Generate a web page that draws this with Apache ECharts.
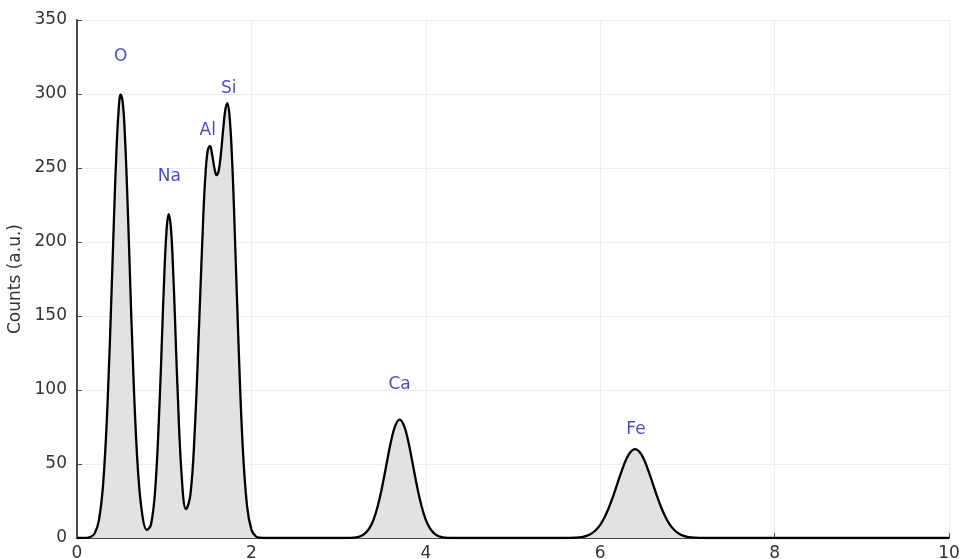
<!DOCTYPE html>
<html lang="en">
<head>
    <meta charset="UTF-8">
    <title>EDS spectrum</title>
    <script src="https://cdn.jsdelivr.net/npm/echarts@6/dist/echarts.min.js"></script>
    <style>
        * {
            margin: 0;
            padding: 0
        }

        html, body {
            width: 100%;
            height: 100%;
            background: #fff;
        }

        #spectrum {
            width: 961px;
            height: 559px;
        }
    </style>
</head>
<body>
<div id="spectrum"></div>
<script>
    // energy (keV) / counts
    var energy = [
        0, 0.1, 0.15, 0.2, 0.25, 0.3, 0.35, 0.4, 0.425, 0.45, 0.475, 0.5, 0.525, 0.55, 0.575, 0.6,
        0.65, 0.7, 0.75, 0.8, 0.85, 0.9, 0.95, 0.975, 1.0, 1.025, 1.05, 1.075, 1.1, 1.125, 1.15,
        1.2, 1.25, 1.3, 1.35, 1.4, 1.45, 1.475, 1.5, 1.525, 1.55, 1.575, 1.6, 1.625, 1.65, 1.675,
        1.7, 1.725, 1.75, 1.775, 1.8, 1.85, 1.9, 1.95, 2.0, 2.05, 2.1, 2.15,
        3.1, 3.15, 3.2, 3.25, 3.3, 3.35, 3.4, 3.45, 3.5, 3.55, 3.6, 3.65, 3.7, 3.75, 3.8, 3.85,
        3.9, 3.95, 4.0, 4.05, 4.1, 4.15, 4.2, 4.25, 4.3,
        5.6, 5.65, 5.7, 5.75, 5.8, 5.85, 5.9, 5.95, 6.0, 6.05, 6.1, 6.15, 6.2, 6.25, 6.3, 6.35,
        6.4, 6.45, 6.5, 6.55, 6.6, 6.65, 6.7, 6.75, 6.8, 6.85, 6.9, 6.95, 7.0, 7.05, 7.1, 7.15,
        7.2, 10
    ];
    var counts = [
        0, 0.1, 0.6, 2.9, 11.6, 36.7, 90.3, 172.9, 217.8, 257.9, 286.8, 299.6, 294.1, 271.2, 234.8, 191.1,
        104.9, 44.8, 15.1, 5.4, 9.5, 35.3, 95.6, 136.2, 175.8, 206.0, 218.8, 210.9, 184.3, 146.1, 105.3,
        42.2, 19.5, 29.0, 71.9, 143.7, 219.9, 247.1, 262.1, 264.9, 258.9, 250.2, 245.2, 248.2, 259.4, 275.2,
        289.0, 293.9, 284.6, 260.3, 223.5, 135.0, 62.0, 21.6, 5.7, 1.2, 0.2, 0,
        0, 0.15, 0.4, 1.2, 2.9, 6.3, 12.3, 21.8, 34.8, 50.1, 65.0, 75.9, 80.0, 75.9, 65.0, 50.1,
        34.8, 21.8, 12.3, 6.3, 2.9, 1.2, 0.4, 0.15, 0,
        0, 0.1, 0.2, 0.4, 0.8, 1.6, 3.1, 5.4, 8.9, 14.0, 20.6, 28.5, 37.3, 45.9, 53.3, 58.2,
        60.0, 58.2, 53.3, 45.9, 37.3, 28.5, 20.6, 14.0, 8.9, 5.4, 3.1, 1.6, 0.8, 0.4, 0.2, 0.1,
        0, 0
    ];

    // element labels above the peaks
    var labelNames = ['O', 'Na', 'Al', 'Si', 'Ca', 'Fe'];
    var labelX = [0.50, 1.06, 1.50, 1.74, 3.70, 6.41];
    var labelY = [325, 244, 275, 304, 104, 73];

    var spectrum = energy.map(function (e, i) {
        return [e, counts[i]];
    });
    var labels = labelNames.map(function (n, i) {
        return [labelX[i], labelY[i], n];
    });

    var axisColor = '#4a4a4a';
    var textColor = '#333';

    var myChart = echarts.init(document.getElementById('spectrum'));

    var option = {
        animation: false,
        backgroundColor: '#fff',
        textStyle: {
            fontFamily: 'DejaVu Sans'
        },
        grid: {
            left: 77,
            right: 12,
            top: 20,
            bottom: 21,
            containLabel: false,
            outerBoundsMode: 'none'
        },
        xAxis: {
            type: 'value',
            min: 0,
            max: 10,
            interval: 2,
            axisLine: {lineStyle: {color: axisColor, width: 2}},
            axisTick: {inside: true, length: 5, lineStyle: {color: axisColor}},
            axisLabel: {fontSize: 17, color: textColor, margin: 7},
            splitLine: {lineStyle: {color: '#eeeeee'}}
        },
        yAxis: {
            type: 'value',
            min: 0,
            max: 350,
            interval: 50,
            name: 'Counts (a.u.)',
            nameLocation: 'middle',
            nameGap: 52,
            nameTextStyle: {fontSize: 17, color: textColor},
            axisLine: {show: true, lineStyle: {color: axisColor, width: 2}},
            axisTick: {show: true, inside: true, length: 5, lineStyle: {color: axisColor}},
            axisLabel: {fontSize: 17, color: textColor, margin: 10},
            splitLine: {lineStyle: {color: '#eeeeee'}}
        },
        series: [
            {
                type: 'line',
                data: spectrum,
                smooth: 0.4,
                showSymbol: false,
                lineStyle: {color: '#000', width: 2.3},
                areaStyle: {color: '#e2e2e2', opacity: 1, origin: 'start'},
                silent: true
            },
            {
                type: 'scatter',
                data: labels,
                symbolSize: 1,
                itemStyle: {color: 'transparent'},
                silent: true,
                label: {
                    show: true,
                    position: 'inside',
                    fontSize: 17,
                    color: '#1c1cb8',
                    formatter: function (p) {
                        return p.data[2];
                    }
                }
            }
        ]
    };

    myChart.setOption(option);
</script>
</body>
</html>
